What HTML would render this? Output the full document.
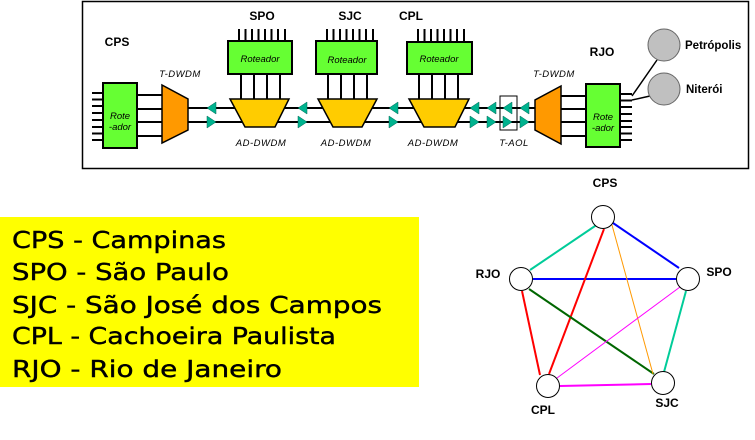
<!DOCTYPE html>
<html><head><meta charset="utf-8"><style>
html,body{margin:0;padding:0;background:#fff;width:755px;height:440px;overflow:hidden}
svg{display:block}
</style></head><body>
<svg width="755" height="440" viewBox="0 0 755 440" xmlns="http://www.w3.org/2000/svg">
<rect x="82.5" y="1.5" width="666" height="167" fill="#fff" stroke="#000" stroke-width="1.5"/>
<g font-family="Liberation Sans, sans-serif" font-weight="bold" font-size="12" text-anchor="middle">
<text x="117" y="46">CPS</text>
<text x="262" y="20">SPO</text>
<text x="350" y="20">SJC</text>
<text x="411" y="20">CPL</text>
<text x="602" y="56">RJO</text>
</g>
<g font-family="Liberation Sans, sans-serif" font-weight="bold" font-size="11.5">
<text x="685" y="49">Petrópolis</text>
<text x="686" y="93">Niterói</text>
</g>
<g font-family="Liberation Sans, sans-serif" font-style="italic" font-size="9.5" text-anchor="middle" letter-spacing="0.5">
<text x="180" y="77">T-DWDM</text>
<text x="554" y="77">T-DWDM</text>
<text x="261" y="146">AD-DWDM</text>
<text x="346" y="146">AD-DWDM</text>
<text x="433" y="146">AD-DWDM</text>
<text x="514" y="146">T-AOL</text>
</g>
<g stroke="#000" stroke-width="2">
<path d="M92 93H103M92 99.5H103M92 106H103M92 113H103M92 120H103M92 127H103M92 133.5H103M92 140H103"/>
<path d="M620 94H632M620 100.5H632M620 107H632M620 114H632M620 121H632M620 127H632M620 133.5H632M620 140H632"/>
<path d="M137 95H164M137 109H164M137 122H164M137 136H164"/>
<path d="M560 96H586M560 109H586M560 122H586M560 136H586"/>
<path d="M188 108H535M188 122H535"/>
<path d="M239 29V41M245.5 29V41M252 29V41M258.5 29V41M265 29V41M271.5 29V41M278 29V41M285 29V41"/>
<path d="M327 29V41M333.5 29V41M340 29V41M346.5 29V41M353 29V41M359.5 29V41M366 29V41M373 29V41"/>
<path d="M418 29V41M424.5 29V41M431 29V41M437.5 29V41M444 29V41M450.5 29V41M457 29V41M464 29V41"/>
<path d="M241 74V100M254 74V100M267 74V100M280 74V100"/>
<path d="M328 74V100M341 74V100M354 74V100M367 74V100"/>
<path d="M419 74V100M432 74V100M445 74V100M458 74V100"/>
<path d="M632 96L657 60M632 100L650 96" stroke-width="1.5"/>
</g>
<g fill="#66ff33" stroke="#000" stroke-width="2">
<rect x="103" y="83" width="34" height="65"/>
<rect x="586" y="84" width="34" height="63"/>
<rect x="228" y="41" width="64" height="33"/>
<rect x="316" y="41" width="61" height="33"/>
<rect x="407" y="42" width="65" height="32"/>
</g>
<g font-family="Liberation Sans, sans-serif" font-style="italic" font-size="9.5" text-anchor="middle">
<text x="260" y="62">Roteador</text>
<text x="347" y="63">Roteador</text>
<text x="439" y="62">Roteador</text>
<text x="120" y="119">Rote</text><text x="120" y="130">-ador</text>
<text x="603" y="120">Rote</text><text x="603" y="131">-ador</text>
</g>
<g stroke="#000" stroke-width="1.5">
<polygon points="162,85 188,99 188,130 162,143" fill="#ff9900"/>
<polygon points="561,86 535,100 535,130 561,144" fill="#ff9900"/>
<polygon points="230,99 289,99 275,127 245,127" fill="#ffcc00"/>
<polygon points="318,99 377,99 362,127 333,127" fill="#ffcc00"/>
<polygon points="409,99 469,99 455,127 424,127" fill="#ffcc00"/>
</g>
<rect x="500" y="96" width="17" height="34" fill="none" stroke="#000" stroke-width="1"/>
<g fill="#00b38f" stroke="#006655" stroke-width="0.5">
<polygon points="207,108 216,102 216,114"/><polygon points="216,122 207,116 207,128"/>
<polygon points="298,108 307,102 307,114"/><polygon points="307,122 298,116 298,128"/>
<polygon points="389,108 398,102 398,114"/><polygon points="398,122 389,116 389,128"/>
<polygon points="470,108 479,102 479,114"/><polygon points="479,122 470,116 470,128"/>
<polygon points="487,108 496,102 496,114"/><polygon points="496,122 487,116 487,128"/>
<polygon points="503,108 512,102 512,114"/><polygon points="512,122 503,116 503,128"/>
<polygon points="520,108 529,102 529,114"/><polygon points="529,122 520,116 520,128"/>
</g>
<circle cx="664" cy="45" r="16" fill="#c0c0c0" stroke="#666" stroke-width="1"/>
<circle cx="664" cy="89" r="16" fill="#c0c0c0" stroke="#666" stroke-width="1"/>

<rect x="0" y="217" width="419" height="170" fill="#ffff00"/>
<g font-family="DejaVu Sans, sans-serif" font-size="23" fill="#000" stroke="#000" stroke-width="0.4">
<text x="12" y="248" textLength="214" lengthAdjust="spacingAndGlyphs">CPS - Campinas</text>
<text x="12" y="280" textLength="217" lengthAdjust="spacingAndGlyphs">SPO - São Paulo</text>
<text x="12" y="313" textLength="370" lengthAdjust="spacingAndGlyphs">SJC - São José dos Campos</text>
<text x="12" y="344" textLength="324" lengthAdjust="spacingAndGlyphs">CPL - Cachoeira Paulista</text>
<text x="12" y="377" textLength="270" lengthAdjust="spacingAndGlyphs">RJO - Rio de Janeiro</text>
</g>

<g fill="none">
<line x1="598" y1="224" x2="530" y2="270" stroke="#00cc99" stroke-width="2"/>
<line x1="613" y1="223" x2="679" y2="268" stroke="#0000ff" stroke-width="2"/>
<line x1="533" y1="279" x2="676" y2="279" stroke="#0000ff" stroke-width="2"/>
<line x1="522" y1="291" x2="540" y2="375" stroke="#ff0000" stroke-width="2"/>
<line x1="604" y1="229" x2="549" y2="374" stroke="#ff0000" stroke-width="2"/>
<line x1="529" y1="289" x2="654" y2="374" stroke="#006600" stroke-width="2"/>
<line x1="612" y1="225" x2="653" y2="374" stroke="#ff9900" stroke-width="1"/>
<line x1="680" y1="287" x2="557" y2="378" stroke="#ff00ff" stroke-width="1"/>
<line x1="686" y1="291" x2="664" y2="372" stroke="#00cc99" stroke-width="2"/>
<line x1="560" y1="386" x2="651" y2="384" stroke="#ff00ff" stroke-width="2"/>
</g>
<g fill="#fff" stroke="#000" stroke-width="1">
<circle cx="603" cy="217" r="11.5"/>
<circle cx="521" cy="279" r="11.5"/>
<circle cx="688" cy="279" r="11.5"/>
<circle cx="548" cy="386" r="11.5"/>
<circle cx="663" cy="383" r="11.5"/>
</g>
<g font-family="Liberation Sans, sans-serif" font-weight="bold" font-size="12" text-anchor="middle">
<text x="605" y="187">CPS</text>
<text x="488" y="278">RJO</text>
<text x="719" y="276">SPO</text>
<text x="543" y="414">CPL</text>
<text x="667" y="407">SJC</text>
</g>
</svg>
</body></html>
